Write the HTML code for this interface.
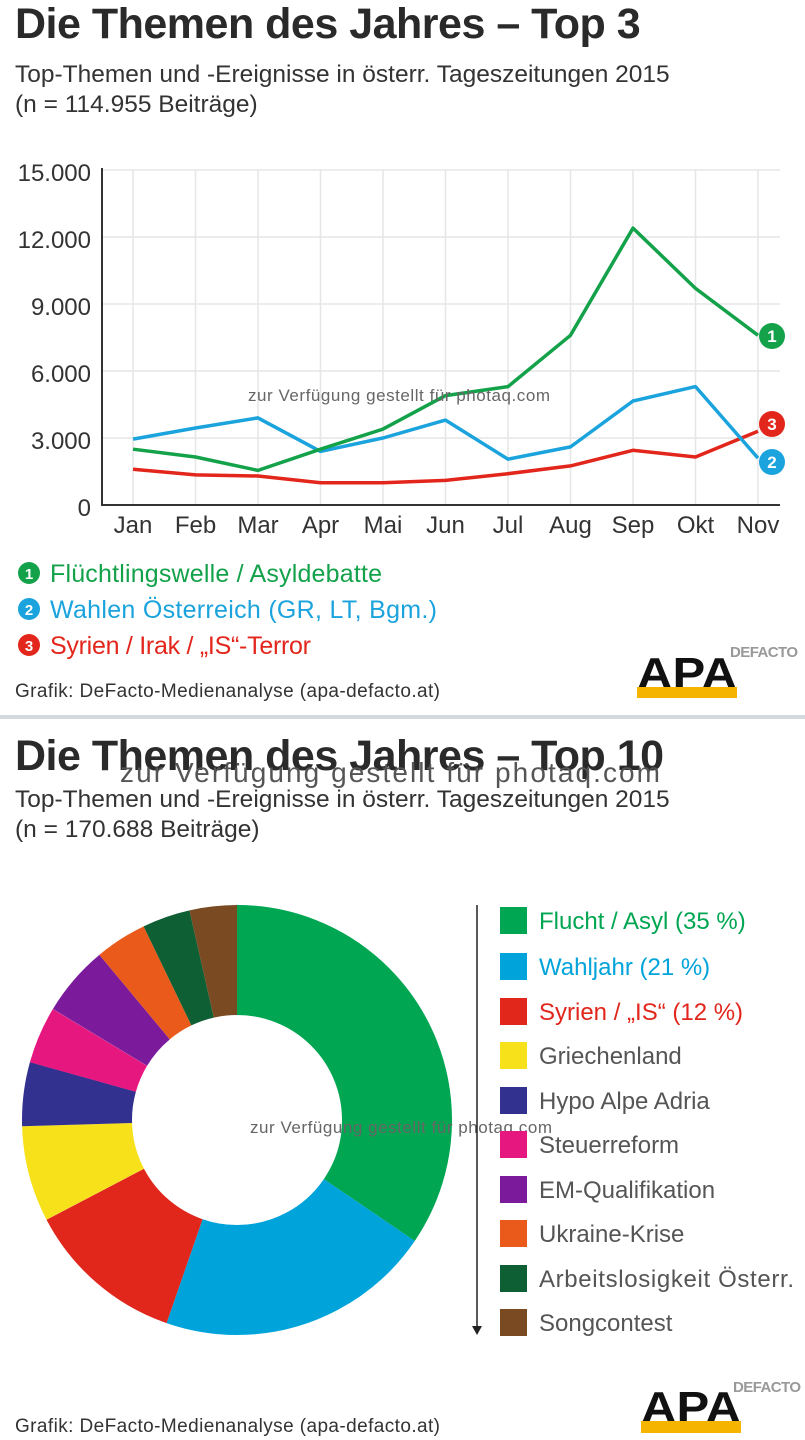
<!DOCTYPE html>
<html><head><meta charset="utf-8"><style>
body{margin:0;width:805px;height:1440px;background:#fff;overflow:hidden;font-family:"Liberation Sans",sans-serif;position:relative;color:#333}
.t{position:absolute;left:15px;font-weight:bold;font-size:43px;color:#2a2a2a;letter-spacing:-0.5px;line-height:48px}
.s{position:absolute;left:15px;font-size:24.5px;color:#333;line-height:30px}
svg{position:absolute;left:0;top:0}
</style></head><body>
<div class="t" style="top:0px">Die Themen des Jahres – Top 3</div>
<div class="s" style="top:60px">Top-Themen und -Ereignisse in österr. Tageszeitungen 2015<br>(n = 114.955 Beiträge)</div>
<div class="t" style="top:732px">Die Themen des Jahres – Top 10</div>
<div class="s" style="top:785px">Top-Themen und -Ereignisse in österr. Tageszeitungen 2015<br>(n = 170.688 Beiträge)</div>

<svg width="805" height="1440" font-family="Liberation Sans, sans-serif">
<g stroke="#e6e6e6" stroke-width="1.5">
<line x1="102" y1="170" x2="780" y2="170"/><line x1="102" y1="237" x2="780" y2="237"/><line x1="102" y1="304" x2="780" y2="304"/><line x1="102" y1="371" x2="780" y2="371"/><line x1="102" y1="438" x2="780" y2="438"/>
<line x1="133" y1="170" x2="133" y2="505"/><line x1="195.5" y1="170" x2="195.5" y2="505"/><line x1="258" y1="170" x2="258" y2="505"/><line x1="320.5" y1="170" x2="320.5" y2="505"/><line x1="383" y1="170" x2="383" y2="505"/><line x1="445.5" y1="170" x2="445.5" y2="505"/><line x1="508" y1="170" x2="508" y2="505"/><line x1="570.5" y1="170" x2="570.5" y2="505"/><line x1="633" y1="170" x2="633" y2="505"/><line x1="695.5" y1="170" x2="695.5" y2="505"/><line x1="758" y1="170" x2="758" y2="505"/>
</g>
<polyline points="102,168 102,505 780,505" fill="none" stroke="#333" stroke-width="2"/>
<g font-size="24" fill="#333" text-anchor="end">
<text x="91" y="181">15.000</text><text x="91" y="248">12.000</text><text x="91" y="315">9.000</text><text x="91" y="382">6.000</text><text x="91" y="449">3.000</text><text x="91" y="516">0</text>
</g>
<g font-size="24" fill="#333" text-anchor="middle">
<text x="133" y="533">Jan</text><text x="195.5" y="533">Feb</text><text x="258" y="533">Mar</text><text x="320.5" y="533">Apr</text><text x="383" y="533">Mai</text><text x="445.5" y="533">Jun</text><text x="508" y="533">Jul</text><text x="570.5" y="533">Aug</text><text x="633" y="533">Sep</text><text x="695.5" y="533">Okt</text><text x="758" y="533">Nov</text>
</g>
<g fill="none" stroke-width="3.5" stroke-linejoin="round">
<polyline stroke="#e3261c" points="133,469.3 195.5,474.9 258,476 320.5,482.7 383,482.7 445.5,480.4 508,473.7 570.5,465.9 633,450.3 695.5,457 758,431.3"/>
<polyline stroke="#1aa3dc" points="133,439.1 195.5,428 258,417.9 320.5,451.4 383,438 445.5,420.1 508,459.2 570.5,446.9 633,401 695.5,386.6 758,458.1"/>
<polyline stroke="#13a24a" points="133,449.2 195.5,457 258,470.4 320.5,449.2 383,429.1 445.5,395.6 508,386.6 570.5,335.3 633,228.1 695.5,288.4 758,335.3"/>
</g>
<g font-size="17" font-weight="bold" fill="#fff" text-anchor="middle">
<circle cx="772" cy="336" r="13" fill="#13a24a"/><text x="772" y="342">1</text>
<circle cx="772" cy="424" r="13" fill="#e3261c"/><text x="772" y="430">3</text>
<circle cx="772" cy="462" r="13" fill="#1aa3dc"/><text x="772" y="468">2</text>
<circle cx="29" cy="573" r="11" fill="#13a24a"/><text x="29" y="579" font-size="15">1</text>
<circle cx="29" cy="609" r="11" fill="#1aa3dc"/><text x="29" y="615" font-size="15">2</text>
<circle cx="29" cy="645" r="11" fill="#e3261c"/><text x="29" y="651" font-size="15">3</text>
</g>
<g font-size="25">
<text x="50" y="582" fill="#13a24a" textLength="332">Flüchtlingswelle / Asyldebatte</text>
<text x="50" y="618" fill="#1aa3dc" textLength="387">Wahlen Österreich (GR, LT, Bgm.)</text>
<text x="50" y="654" fill="#e3261c" textLength="261">Syrien / Irak / „IS“-Terror</text>
</g>
<text x="15" y="697" font-size="19" fill="#333" textLength="425">Grafik: DeFacto-Medienanalyse (apa-defacto.at)</text>
<text x="248" y="401" font-size="17" fill="#666" textLength="302">zur Verfügung gestellt für photaq.com</text>

<text x="730" y="657" font-size="15" font-weight="bold" fill="#999" textLength="68">DEFACTO</text>
<text x="687" y="688" font-size="44" font-weight="bold" fill="#111" text-anchor="middle" textLength="100" lengthAdjust="spacingAndGlyphs">APA</text>
<rect x="637" y="687" width="100" height="11" fill="#f4b400"/>

<rect x="0" y="715" width="805" height="4" fill="#d5dadf"/>
<text x="120" y="782" font-size="28" fill="#555" textLength="540">zur Verfügung gestellt für photaq.com</text>

<g transform="rotate(-90 237 1120)" fill="none" stroke-width="110">
<circle cx="237" cy="1120" r="160" stroke="#00a651" stroke-dasharray="346.8 1005.3" stroke-dashoffset="0"/>
<circle cx="237" cy="1120" r="160" stroke="#00a3da" stroke-dasharray="209.1 1005.3" stroke-dashoffset="-346.8"/>
<circle cx="237" cy="1120" r="160" stroke="#e1261c" stroke-dasharray="120.6 1005.3" stroke-dashoffset="-555.9"/>
<circle cx="237" cy="1120" r="160" stroke="#f7e11b" stroke-dasharray="72.4 1005.3" stroke-dashoffset="-676.6"/>
<circle cx="237" cy="1120" r="160" stroke="#33318f" stroke-dasharray="48.3 1005.3" stroke-dashoffset="-749"/>
<circle cx="237" cy="1120" r="160" stroke="#e6187f" stroke-dasharray="43.2 1005.3" stroke-dashoffset="-797.2"/>
<circle cx="237" cy="1120" r="160" stroke="#7b1b9c" stroke-dasharray="53.3 1005.3" stroke-dashoffset="-840.5"/>
<circle cx="237" cy="1120" r="160" stroke="#ea5b1b" stroke-dasharray="39.2 1005.3" stroke-dashoffset="-893.8"/>
<circle cx="237" cy="1120" r="160" stroke="#0f5f34" stroke-dasharray="36.2 1005.3" stroke-dashoffset="-933"/>
<circle cx="237" cy="1120" r="160" stroke="#7a4a22" stroke-dasharray="36.2 1005.3" stroke-dashoffset="-969.2"/>
</g>
<text x="250" y="1133" font-size="17" fill="#666" textLength="302">zur Verfügung gestellt für photaq.com</text>

<line x1="477" y1="905" x2="477" y2="1328" stroke="#222" stroke-width="1.5"/>
<polygon points="472,1326 482,1326 477,1335" fill="#222"/>
<g>
<rect x="500" y="907" width="27" height="27" fill="#00a651"/>
<rect x="500" y="953" width="27" height="27" fill="#00a3da"/>
<rect x="500" y="998" width="27" height="27" fill="#e1261c"/>
<rect x="500" y="1042" width="27" height="27" fill="#f7e11b"/>
<rect x="500" y="1087" width="27" height="27" fill="#33318f"/>
<rect x="500" y="1131" width="27" height="27" fill="#e6187f"/>
<rect x="500" y="1176" width="27" height="27" fill="#7b1b9c"/>
<rect x="500" y="1220" width="27" height="27" fill="#ea5b1b"/>
<rect x="500" y="1265" width="27" height="27" fill="#0f5f34"/>
<rect x="500" y="1309" width="27" height="27" fill="#7a4a22"/>
</g>
<g font-size="24" fill="#555">
<text x="539" y="929" fill="#00a651">Flucht / Asyl (35 %)</text>
<text x="539" y="975" fill="#00a3da">Wahljahr (21 %)</text>
<text x="539" y="1020" fill="#e1261c">Syrien / „IS“ (12 %)</text>
<text x="539" y="1064">Griechenland</text>
<text x="539" y="1109">Hypo Alpe Adria</text>
<text x="539" y="1153">Steuerreform</text>
<text x="539" y="1198">EM-Qualifikation</text>
<text x="539" y="1242">Ukraine-Krise</text>
<text x="539" y="1287" textLength="255">Arbeitslosigkeit Österr.</text>
<text x="539" y="1331">Songcontest</text>
</g>
<text x="15" y="1432" font-size="19" fill="#333" textLength="425">Grafik: DeFacto-Medienanalyse (apa-defacto.at)</text>
<text x="733" y="1392" font-size="15" font-weight="bold" fill="#999" textLength="68">DEFACTO</text>
<text x="691" y="1422" font-size="44" font-weight="bold" fill="#111" text-anchor="middle" textLength="100" lengthAdjust="spacingAndGlyphs">APA</text>
<rect x="641" y="1421" width="100" height="12" fill="#f4b400"/>
</svg>
</body></html>
